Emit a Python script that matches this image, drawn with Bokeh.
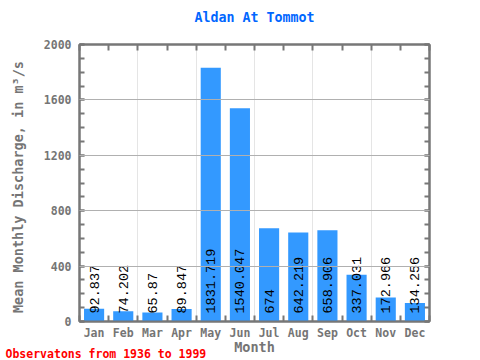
from bokeh.plotting import figure
from bokeh.models import (ColumnDataSource, Range1d, LinearAxis, FixedTicker, Title)
from bokeh.embed import file_html
from bokeh.resources import INLINE
from bokeh.core.properties import value
import math

months = ["Jan", "Feb", "Mar", "Apr", "May", "Jun", "Jul", "Aug", "Sep", "Oct", "Nov", "Dec"]
discharge = [92.837, 74.202, 65.87, 89.847, 1831.719, 1540.047, 674.0, 642.219, 658.906, 337.031, 172.966, 134.256]
y_ticks = [0, 400, 800, 1200, 1600, 2000]
title_text = "Aldan At Tommot"
footer_text = "Observatons from 1936 to 1999"

n = len(months)
pos = [i + 0.5 for i in range(n)]          # category centres on a numeric scale
bounds = list(range(n + 1))                # category boundaries
labels = [f"{v:.3f}".rstrip("0").rstrip(".") for v in discharge]
src = ColumnDataSource(dict(x=pos, q=discharge, lab=labels, zero=[0] * n))

GRAY = "#777777"
LBL = "#757575"
MONO = "DejaVu Sans Mono"

p = figure(width=480, height=360, x_range=Range1d(0, n), y_range=Range1d(0, 2000),
           output_backend="svg", toolbar_location=None, x_axis_location=None,
           min_border_left=79, min_border_right=51, min_border_top=44, min_border_bottom=39)
p.background_fill_color = "white"
p.border_fill_color = "white"
p.outline_line_color = GRAY
p.outline_line_width = 2
p.title.text = ""

p.vbar(x="x", top="q", width=0.69, source=src, color="#3399ff", line_color=None)
p.text(x="x", y="zero", text="lab", source=src, angle=math.pi / 2, y_offset=-8,
       text_align="left", text_baseline="middle", text_font=value("Liberation Mono"),
       text_font_size="13.5px", text_color="black")

yt = FixedTicker(ticks=y_ticks, minor_ticks=list(range(0, 2001, 100)))
ya = p.yaxis[0]
ya.ticker = yt
ya.axis_line_color = GRAY
ya.axis_line_width = 2
ya.major_tick_line_color = GRAY
ya.minor_tick_line_color = GRAY
ya.major_tick_line_width = 2
ya.minor_tick_line_width = 2
ya.major_tick_in = 5
ya.major_tick_out = 0
ya.minor_tick_in = 5
ya.minor_tick_out = 0
ya.major_label_text_font = MONO
ya.major_label_text_font_style = "bold"
ya.major_label_text_font_size = "11.5px"
ya.major_label_text_color = LBL
ya.major_label_standoff = 8
ya.axis_label = "Mean Monthly Discharge, in  m³/s"
ya.axis_label_text_font = MONO
ya.axis_label_text_font_style = "bold"
ya.axis_label_text_font_size = "13.5px"
ya.axis_label_text_color = LBL
ya.axis_label_standoff = 15

ra = LinearAxis(ticker=yt, major_label_overrides={t: "" for t in y_ticks}, major_label_standoff=0,
                axis_line_color=GRAY, axis_line_width=2,
                major_tick_line_color=GRAY, minor_tick_line_color=GRAY,
                major_tick_line_width=2, minor_tick_line_width=2,
                major_tick_in=5, major_tick_out=0, minor_tick_in=5, minor_tick_out=0)
p.add_layout(ra, "right")

ba = LinearAxis(ticker=FixedTicker(ticks=pos, minor_ticks=bounds),
                major_label_overrides={c: m for c, m in zip(pos, months)},
                axis_line_color=GRAY, axis_line_width=2,
                major_tick_in=0, major_tick_out=0,
                minor_tick_line_color=GRAY, minor_tick_line_width=2,
                minor_tick_in=6, minor_tick_out=0,
                major_label_text_font=MONO, major_label_text_font_style="bold",
                major_label_text_font_size="11.5px", major_label_text_color=LBL,
                major_label_standoff=4,
                axis_label="Month", axis_label_text_font=MONO, axis_label_text_font_style="bold",
                axis_label_text_font_size="13.5px", axis_label_text_color=LBL,
                axis_label_standoff=-4)
p.add_layout(ba, "below")

ta = LinearAxis(ticker=FixedTicker(ticks=bounds),
                axis_line_color=GRAY, axis_line_width=2,
                major_tick_line_color=GRAY, major_tick_line_width=2,
                major_tick_in=6, major_tick_out=0, minor_tick_in=0, minor_tick_out=0,
                major_label_overrides={b: "" for b in bounds}, major_label_standoff=0,
                axis_label=title_text, axis_label_text_font=MONO, axis_label_text_font_style="bold",
                axis_label_text_font_size="13.3px", axis_label_text_color="#0066ff",
                axis_label_standoff=20)
p.add_layout(ta, "above")

p.ygrid.ticker = yt
p.ygrid.grid_line_color = "#b0b0b0"
p.ygrid.grid_line_width = 1
p.ygrid.level = "overlay"

foot = Title(text=footer_text, align="left", vertical_align="top", offset=-74, standoff=-21,
             text_color="red", text_font=MONO, text_font_style="bold", text_font_size="11.5px")
p.add_layout(foot, "below")

open("out.html", "w").write(file_html(p, INLINE))
